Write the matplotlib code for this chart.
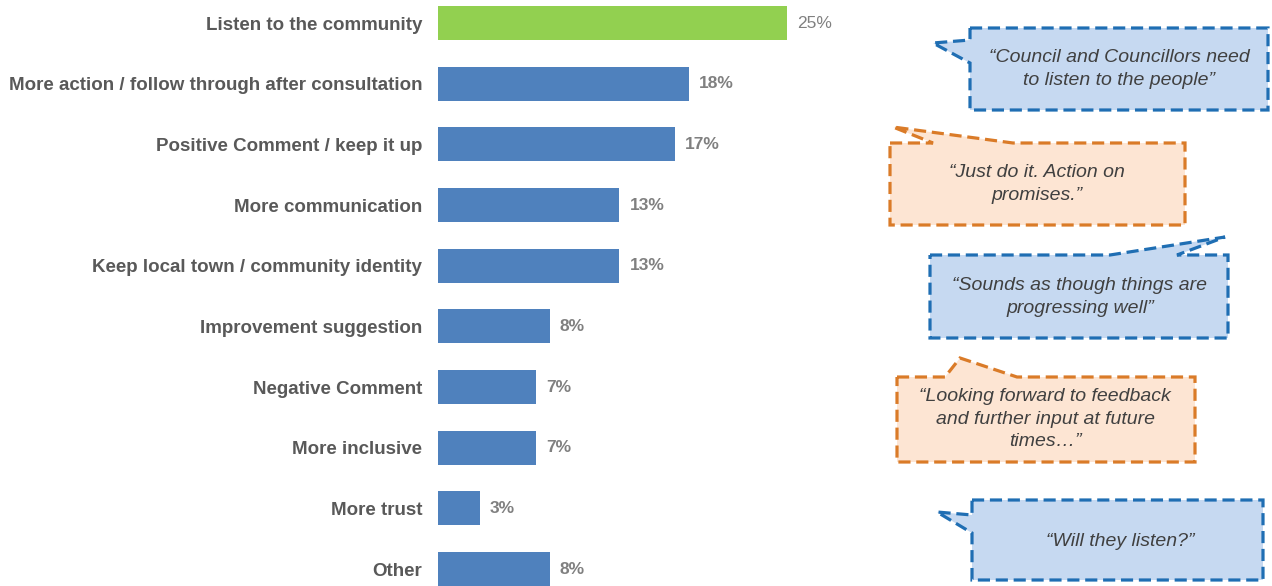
import matplotlib
matplotlib.use('Agg')
import matplotlib.pyplot as plt
from matplotlib.patches import Polygon

# Datos del gráfico
categorias = ['Listen to the community',
              'More action / follow through after consultation',
              'Positive Comment / keep it up',
              'More communication',
              'Keep local town / community identity',
              'Improvement suggestion',
              'Negative Comment',
              'More inclusive',
              'More trust',
              'Other']
valores = [25, 18, 17, 13, 13, 8, 7, 7, 3, 8]
colores_barras = ['#92D050'] + ['#4F81BD'] * 9

citas = ['\u201cCouncil and Councillors need\nto listen to the people\u201d',
         '\u201cJust do it. Action on\npromises.\u201d',
         '\u201cSounds as though things are\nprogressing well\u201d',
         '\u201cLooking forward to feedback\nand further input at future\ntimes\u2026\u201d',
         '\u201cWill they listen?\u201d']

W, H = 1272, 586
plt.rcParams['font.family'] = ['Liberation Sans', 'DejaVu Sans']

fig = plt.figure(figsize=(W / 100, H / 100), dpi=100)
# Ejes colocados en píxeles: barras desde x=438, 13.96 px por punto porcentual
ax = fig.add_axes([438 / W, 0, 442 / W, 1])
ax.set_xlim(0, 442 / 13.96)
ax.set_ylim(563 / 60.67, -23 / 60.67)

pos = list(range(len(categorias)))
bars = ax.barh(pos, valores, height=0.56, color=colores_barras)

ax.set_yticks(pos)
ax.set_yticklabels(categorias, fontsize=13.5, fontweight='bold', color='#595959')
ax.tick_params(axis='y', length=0, pad=11.5)
ax.set_xticks([])
for s in ax.spines.values():
    s.set_visible(False)

for i, (bar, v) in enumerate(zip(bars, valores)):
    ax.text(bar.get_width() + 0.72, bar.get_y() + bar.get_height() / 2, f'{v}%',
            va='center', ha='left', fontsize=12.5,
            fontweight='normal' if i == 0 else 'bold', color='#808080')


# Globos de comentarios (coordenadas en píxeles de la imagen)
def globo(puntos, relleno, borde, texto, centro):
    pts = [(x / W, 1 - y / H) for x, y in puntos]
    fig.add_artist(Polygon(pts, closed=True, transform=fig.transFigure,
                           facecolor=relleno, edgecolor=borde, linewidth=2.3,
                           linestyle=(0, (3.8, 1.8)), joinstyle='miter'))
    fig.text(centro[0] / W, 1 - centro[1] / H, texto, ha='center', va='center',
             fontsize=14, style='italic', color='#404040', linespacing=1.45)


azul_f, azul_b = '#C6D9F1', '#1F6EB3'
nar_f, nar_b = '#FDE5D3', '#DA7B28'

globo([(970, 28), (1268, 28), (1268, 110), (970, 110), (970, 63), (933, 43), (970, 40)],
      azul_f, azul_b, citas[0], (1119, 69))
globo([(890, 143), (933, 143), (893, 127), (1013, 143), (1185, 143), (1185, 225), (890, 225)],
      nar_f, nar_b, citas[1], (1037, 184))
globo([(930, 255), (1110, 255), (1225, 237), (1177, 255), (1228, 255), (1228, 338), (930, 338)],
      azul_f, azul_b, citas[2], (1080, 297))
globo([(897, 377), (945, 377), (960, 358), (1017, 377), (1195, 377), (1195, 462), (897, 462)],
      nar_f, nar_b, citas[3], (1045, 419))
globo([(972, 500), (1263, 500), (1263, 580), (972, 580), (972, 533), (937, 512), (972, 515)],
      azul_f, azul_b, citas[4], (1120, 541))

fig.savefig('out.png', dpi=100)
